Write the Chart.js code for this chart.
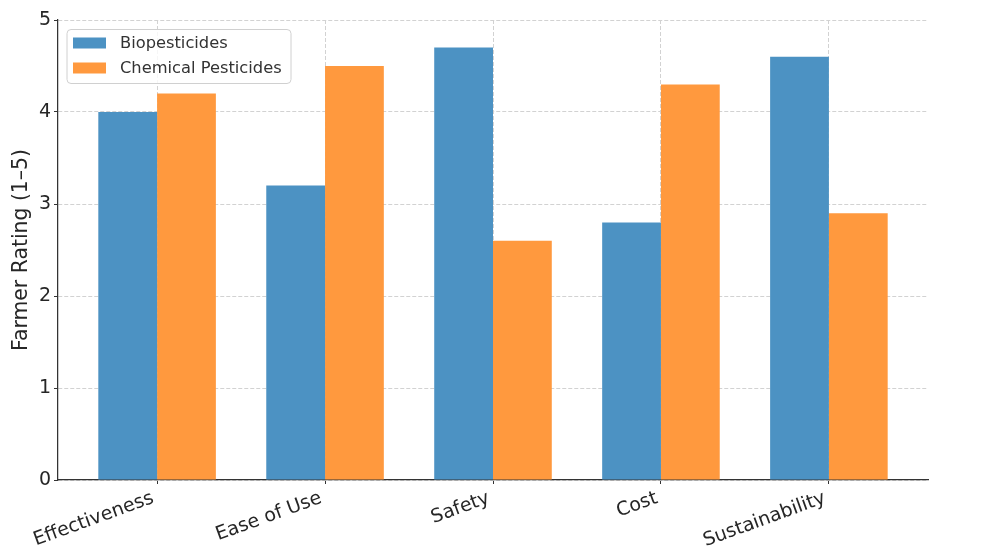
<!DOCTYPE html>
<html>
<head>
<meta charset="utf-8">
<script src="https://cdn.jsdelivr.net/npm/chart.js@4/dist/chart.umd.min.js"></script>
<style>
  html, body { margin: 0; padding: 0; background: #ffffff; }
  #wrap { position: relative; width: 987px; height: 548px; }
</style>
</head>
<body>
<div id="wrap"><canvas id="chart" width="987" height="548"></canvas></div>
<script>
// Ratings per criterion (scale 1–5)
const categories = ['Effectiveness', 'Ease of Use', 'Safety', 'Cost', 'Sustainability'];
const biopesticides = [4.0, 3.2, 4.7, 2.8, 4.6];
const chemicalPesticides = [4.2, 4.5, 2.6, 4.3, 2.9];
const yTicks = [0, 1, 2, 3, 4, 5];

const FONT = 'DejaVu Sans';
const TEXT = '#262626';
const GRID = '#d2d2d2';
const AXIS = '#333333';

const toPoints = vals => vals.map((v, i) => ({ x: i, y: v }));

// Framed legend in the upper-left corner of the plot
const boxedLegend = {
  id: 'boxedLegend',
  afterDraw(chart) {
    const ctx = chart.ctx;
    const area = chart.chartArea;
    const x0 = area.left + 9, y0 = area.top + 9.5;
    const w = 224, h = 54;
    ctx.save();
    ctx.beginPath();
    ctx.roundRect(x0, y0, w, h, 4);
    ctx.fillStyle = 'rgba(255,255,255,0.8)';
    ctx.fill();
    ctx.strokeStyle = '#d0d0d0';
    ctx.lineWidth = 1;
    ctx.stroke();
    ctx.font = '16.3px "' + FONT + '"';
    ctx.textBaseline = 'middle';
    chart.data.datasets.forEach((ds, i) => {
      const cy = y0 + 13.5 + i * 25;
      ctx.fillStyle = ds.backgroundColor;
      ctx.fillRect(x0 + 6, cy - 5.5, 33, 11);
      ctx.fillStyle = '#333333';
      ctx.fillText(ds.label, x0 + 53, cy + 1);
    });
    ctx.restore();
  }
};

const gridOpts = {
  color: GRID,
  offset: false,
  tickLength: 4,
  tickColor: AXIS,
  tickBorderDash: []
};

new Chart(document.getElementById('chart'), {
  type: 'bar',
  data: {
    datasets: [
      { label: 'Biopesticides', data: toPoints(biopesticides), backgroundColor: '#4c92c3', borderWidth: 0 },
      { label: 'Chemical Pesticides', data: toPoints(chemicalPesticides), backgroundColor: '#ff993e', borderWidth: 0 }
    ]
  },
  options: {
    responsive: false,
    animation: false,
    layout: { padding: { top: 20, right: 59, left: 0, bottom: 0 } },
    datasets: { bar: { categoryPercentage: 0.7, barPercentage: 1.0 } },
    plugins: { legend: { display: false }, tooltip: { enabled: false }, title: { display: false } },
    scales: {
      x: {
        type: 'linear',
        offset: false,
        min: -0.59,
        max: 4.59,
        afterBuildTicks: s => { s.ticks = categories.map((c, i) => ({ value: i })); },
        afterFit: s => { s.height = 68; },
        ticks: {
          autoSkip: false,
          minRotation: 20,
          maxRotation: 20,
          padding: 3,
          labelOffset: -4,
          color: TEXT,
          font: { family: FONT, size: 19 },
          callback: v => categories[v] ?? ''
        },
        grid: gridOpts,
        border: { color: AXIS, width: 1.25, dash: [4, 2] }
      },
      y: {
        min: 0,
        max: 5,
        afterBuildTicks: s => { s.ticks = yTicks.map(v => ({ value: v })); },
        afterFit: s => { s.width = 58; },
        ticks: {
          padding: 3,
          color: TEXT,
          font: { family: FONT, size: 19 }
        },
        grid: gridOpts,
        border: { color: AXIS, width: 1.25, dash: [4, 2] },
        title: {
          display: true,
          text: 'Farmer Rating (1–5)',
          color: TEXT,
          font: { family: FONT, size: 20.4 },
          padding: { top: 9, bottom: 0 }
        }
      }
    }
  },
  plugins: [boxedLegend]
});
</script>
</body>
</html>
